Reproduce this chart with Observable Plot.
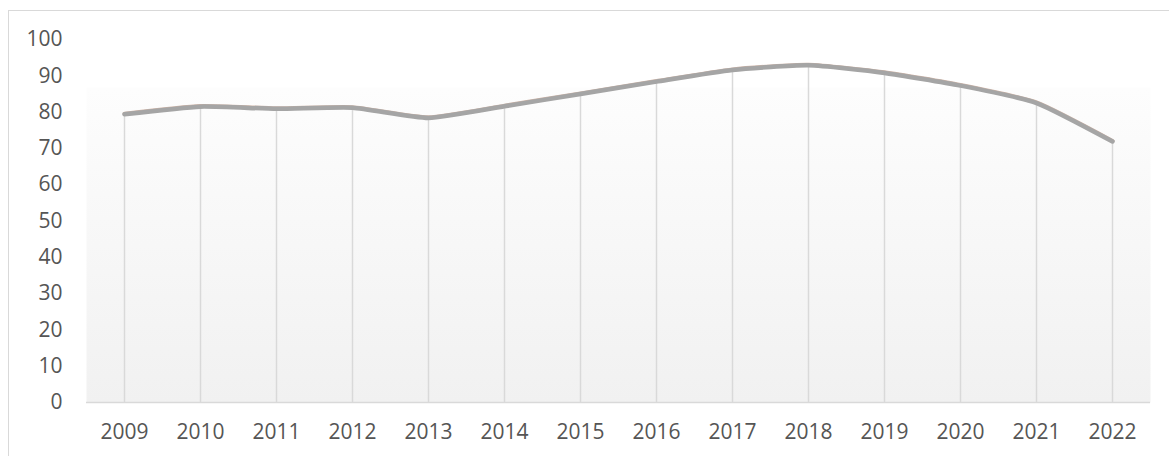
<!DOCTYPE html>
<html>
<head>
<meta charset="utf-8">
<script src="https://cdn.jsdelivr.net/npm/d3@7"></script>
<script src="https://cdn.jsdelivr.net/npm/@observablehq/plot@0.6"></script>
<style>
  html, body { margin: 0; padding: 0; background: #fff; }
  #wrap { position: relative; width: 1169px; height: 456px; overflow: hidden; }
  #border { position: absolute; left: 8px; top: 10px; width: 1170px; height: 460px; border: 1.5px solid #d9d9d9; box-sizing: border-box; }
  #chart { position: absolute; left: 0; top: 0; }
</style>
</head>
<body>
<div id="wrap"><div id="border"></div><div id="chart"></div></div>
<script>
const years = ["2009","2010","2011","2012","2013","2014","2015","2016","2017","2018","2019","2020","2021","2022"];
const values = [79.4, 81.5, 80.9, 81.2, 78.4, 81.6, 85.0, 88.4, 91.6, 92.9, 90.8, 87.3, 82.5, 71.9];
const yTicks = [0, 10, 20, 30, 40, 50, 60, 70, 80, 90, 100];

const data = years.map((y, i) => ({year: y, value: values[i]}));
const curve = d3.curveCardinal.tension(0.45);

const chart = Plot.plot({
  width: 1169,
  height: 456,
  marginLeft: 86,
  marginRight: 19,
  marginTop: 39,
  marginBottom: 54,
  style: {fontFamily: "'Open Sans', sans-serif", fontSize: "21px", color: "#595959", background: "transparent"},
  x: {type: "point", domain: years, padding: 0.5, label: null},
  y: {domain: [0, 100], label: null},
  marks: [
    Plot.frame({fill: "#f2f2f2", stroke: null}),
    Plot.axisY({ticks: yTicks, tickSize: 0, tickPadding: 24, fill: "#555555", fontSize: 21}),
    Plot.axisX({tickSize: 0, tickPadding: 22, fill: "#555555", fontSize: 21}),
    Plot.ruleX(data, {x: "year", y1: 0, y2: "value", stroke: "#d9d9d9", strokeWidth: 1.5}),
    Plot.ruleY([0], {stroke: "#d9d9d9", strokeWidth: 1.5}),
    Plot.line(data, {x: "year", y: "value", curve, stroke: "#cdb3a6", strokeWidth: 4, dy: -0.6, strokeLinecap: "round", strokeLinejoin: "round"}),
    Plot.line(data, {x: "year", y: "value", curve, stroke: "#a5a5a5", strokeWidth: 4.5, strokeLinecap: "round", strokeLinejoin: "round"})
  ]
});

// gradient fill for plot area
const svg = d3.select(chart);
const defs = svg.insert("defs", ":first-child");
const grad = defs.append("linearGradient").attr("id", "bg").attr("x1", 0).attr("y1", 0).attr("x2", 0).attr("y2", 1);
grad.append("stop").attr("offset", "0").attr("stop-color", "#ffffff");
grad.append("stop").attr("offset", "0.13").attr("stop-color", "#ffffff");
grad.append("stop").attr("offset", "0.135").attr("stop-color", "#fdfdfd");
grad.append("stop").attr("offset", "1").attr("stop-color", "#f1f1f1");
svg.select("[aria-label=frame]").attr("fill", "url(#bg)");
svg.selectAll("[aria-label=frame] rect").attr("fill", "url(#bg)");

document.getElementById("chart").appendChild(chart);
</script>
</body>
</html>
